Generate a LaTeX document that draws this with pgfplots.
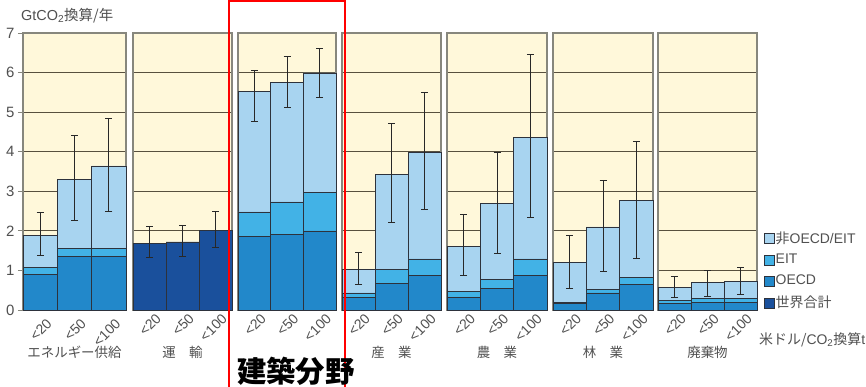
\documentclass[border=0pt]{standalone}
\usepackage{fontspec}
\setmainfont{Liberation Sans}
\newfontfamily\cjk{Noto Sans CJK JP}
\usepackage{pgfplots}
\usepackage{pgfplotstable}
\pgfplotsset{compat=1.18}

\definecolor{cNon}{RGB}{168,212,240}
\definecolor{cEIT}{RGB}{66,178,230}
\definecolor{cOECD}{RGB}{34,136,202}
\definecolor{cWorld}{RGB}{26,80,156}
\definecolor{bgc}{RGB}{255,248,218}
\definecolor{gridc}{RGB}{88,80,62}
\definecolor{framec}{RGB}{135,135,125}
\definecolor{edgec}{RGB}{45,50,60}
\definecolor{errc}{RGB}{40,40,40}
\definecolor{txtc}{RGB}{80,80,80}

% columns: x, OECD top, EIT top, total (non-OECD/EIT top), error range low/high
\pgfplotstableread{
x oecd eit tot lo hi
0 0.90 1.08 1.88 1.37 2.47
1 1.35 1.56 3.31 2.27 4.42
2 1.35 1.56 3.64 2.50 4.84
}\energy
\pgfplotstableread{
x tot lo hi
0 1.68 1.33 2.10
1 1.72 1.36 2.13
2 2.02 1.58 2.48
}\transport
\pgfplotstableread{
x oecd eit tot lo hi
0 1.86 2.48 5.53 4.76 6.06
1 1.92 2.73 5.76 5.12 6.41
2 2.00 2.98 5.99 5.37 6.61
}\buildings
\pgfplotstableread{
x oecd eit tot lo hi
0 0.32 0.43 1.03 0.65 1.46
1 0.68 1.02 3.43 2.20 4.72
2 0.87 1.29 3.98 2.53 5.50
}\industry
\pgfplotstableread{
x oecd eit tot lo hi
0 0.32 0.47 1.60 0.86 2.42
1 0.54 0.78 2.70 1.42 3.99
2 0.87 1.29 4.36 2.33 6.46
}\agriculture
\pgfplotstableread{
x oecd eit tot lo hi
0 0.17 0.19 1.21 0.55 1.89
1 0.43 0.53 2.10 0.98 3.27
2 0.65 0.83 2.76 1.29 4.26
}\forestry
\pgfplotstableread{
x oecd eit tot lo hi
0 0.17 0.25 0.57 0.32 0.85
1 0.19 0.29 0.69 0.35 1.01
2 0.20 0.30 0.72 0.40 1.08
}\waste

\pgfplotsset{
  panel/.style 2 args={
    anchor=south west, at={(#1bp,77bp)},
    scale only axis, width=#2bp, height=277bp,
    ymin=0, ymax=7, xmin=-0.5, xmax=2.5,
    ytick={0,...,7}, yticklabels={},
    xtick={0,1,2}, xticklabels={<20,<50,<100},
    ymajorgrids, grid style={gridc, line width=0.8bp},
    axis background/.style={fill=bgc},
    axis line style={framec, line width=1.1bp},
    major tick length=0pt,
    xticklabel style={rotate=45, anchor=east, inner sep=0pt,
      font=\fontsize{14}{14}\selectfont, text=txtc, xshift=2bp, yshift=-11bp},
    clip=false,
  },
  seg/.style={ybar, bar width=1, bar shift=0pt, fill=#1, draw=edgec,
    line width=0.6bp, forget plot},
  err/.style={ybar, bar width=1, bar shift=0pt, draw=none, fill=none, forget plot,
    error bars/.cd, y dir=both, y explicit,
    error bar style={draw=errc, line width=1bp},
    error mark options={rotate=90, draw=errc, line width=1bp, mark size=3.5bp}},
  key/.style={legend image code/.code={%
    \draw[fill=#1, draw=edgec, line width=0.6bp] (0bp,-5bp) rectangle (10bp,5bp);}},
}

\newcommand\regions[1]{%
  \addplot[seg=cNon] table[x=x, y=tot]{#1};
  \addplot[seg=cEIT] table[x=x, y=eit]{#1};
  \addplot[seg=cOECD] table[x=x, y=oecd]{#1};
  \addplot[err] table[x=x, y=tot,
    y error plus expr=\thisrow{hi}-\thisrow{tot},
    y error minus expr=\thisrow{tot}-\thisrow{lo}]{#1};
}
\newcommand\sector[1]{%
  \node[text=txtc, font=\cjk\fontsize{13.5}{13.5}\selectfont] at (rel axis cs:0.5,0) [yshift=-42bp] {#1};
}

\begin{document}
\begin{tikzpicture}
\useasboundingbox[fill=white] (0,0) rectangle (866bp,387bp);

% energy supply, with the value axis
\begin{axis}[panel={23}{103},
  yticklabels={0,1,2,3,4,5,6,7},
  ytick pos=left, tick align=outside,
  ytick style={draw=framec, line width=1bp},
  y tick label style={font=\fontsize{15}{15}\selectfont, text=txtc},
  /pgf/number format/assume math mode=true,
  major tick length=5bp,
  xtick style={draw=none}]
  \regions{\energy}
  \sector{エネルギー供給}
\end{axis}

% transport: world total only
\begin{axis}[panel={133}{99}]
  \addplot[seg=cWorld] table[x=x, y=tot]{\transport};
  \addplot[err] table[x=x, y=tot,
    y error plus expr=\thisrow{hi}-\thisrow{tot},
    y error minus expr=\thisrow{tot}-\thisrow{lo}]{\transport};
  \sector{運\hspace{1em}輸}
\end{axis}

\begin{axis}[panel={238}{98}]
  \regions{\buildings}
\end{axis}

\begin{axis}[panel={342}{99}]
  \regions{\industry}
  \sector{産\hspace{1em}業}
\end{axis}

\begin{axis}[panel={447}{100}]
  \regions{\agriculture}
  \sector{農\hspace{1em}業}
\end{axis}

\begin{axis}[panel={553}{100}]
  \regions{\forestry}
  \sector{林\hspace{1em}業}
\end{axis}

\begin{axis}[panel={658}{99},
  legend style={at={(1.065,0.29)}, anchor=north west, draw=none, fill=none,
    font=\fontsize{14}{14}\selectfont, text=txtc, row sep=6.8bp,
    inner sep=0pt, nodes={inner sep=1.5bp}},
  legend cell align=left]
  \regions{\waste}
  \sector{廃棄物}
  \addlegendimage{key=cNon}
  \addlegendentry{{\cjk 非}OECD/EIT}
  \addlegendimage{key=cEIT}
  \addlegendentry{EIT}
  \addlegendimage{key=cOECD}
  \addlegendentry{OECD}
  \addlegendimage{key=cWorld}
  \addlegendentry{\cjk 世界合計}
\end{axis}

% titles and units
\node[anchor=west, text=txtc, font=\fontsize{14.5}{14.5}\selectfont, inner sep=0pt]
  at (21bp,371bp) {GtCO\textsubscript{2}{\cjk 換算/年}};
\node[anchor=west, text=txtc, font=\fontsize{14}{14}\selectfont, inner sep=0pt]
  at (759bp,47bp) {{\cjk 米ドル/}CO\textsubscript{2}{\cjk 換算}t};

% highlighted buildings sector
\draw[red, line width=2.2bp] (229bp,386bp) rectangle (345bp,-3bp);
\node[anchor=west, inner sep=0pt, font=\cjk\bfseries\fontsize{29.5}{29.5}\selectfont]
  at (237bp,16bp) {建築分野};
\end{tikzpicture}
\end{document}
